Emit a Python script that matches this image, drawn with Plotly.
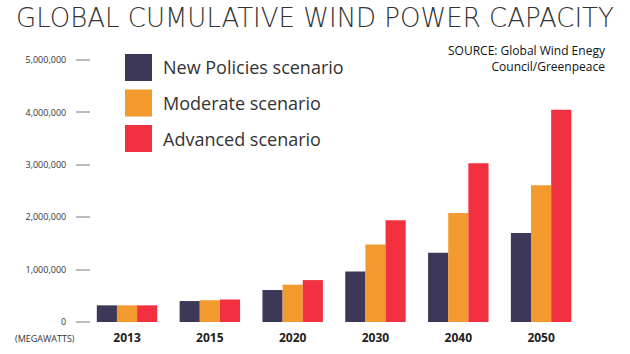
import plotly.graph_objects as go

years = ["2013", "2015", "2020", "2030", "2040", "2050"]
new_policies = [318000, 400000, 610000, 964000, 1320000, 1700000]
moderate = [318000, 415000, 712000, 1480000, 2080000, 2610000]
advanced = [318000, 430000, 800000, 1940000, 3030000, 4050000]
series_names = ["New Policies scenario", "Moderate scenario", "Advanced scenario"]
colors = ["#3d3858", "#f29a2e", "#f2303f"]
y_ticks = [0, 1000000, 2000000, 3000000, 4000000, 5000000]

fig = go.Figure()
for name, vals, col in zip(series_names, [new_policies, moderate, advanced], colors):
    fig.add_trace(go.Bar(x=years, y=vals, name=name, marker_color=col,
                         marker_line_width=0, showlegend=False))

fig.update_layout(
    width=630, height=354,
    margin=dict(l=91, r=45, t=60, b=32),
    paper_bgcolor="white", plot_bgcolor="white",
    barmode="group", bargap=0.27, bargroupgap=0,
    font=dict(family="Open Sans", color="#333"),
    xaxis=dict(type="category", range=[-0.435, 5.53], showgrid=False, showline=False,
               automargin=False,
               ticks="", tickfont=dict(family="Open Sans", size=12, color="#222", weight=700),
               ticklabelstandoff=7),
    yaxis=dict(range=[0, 5000000], tickvals=y_ticks, tickformat=",d", showgrid=False,
               automargin=False,
               zeroline=False, showline=False, ticks="outside", ticklen=14, tickwidth=1.5,
               tickcolor="#bbb", tickfont=dict(family="Open Sans", size=9, color="#333"),
               ticklabelstandoff=8),
)

fig.add_annotation(text="GLOBAL CUMULATIVE WIND POWER CAPACITY", xref="paper", yref="paper",
                   x=0.5, y=1, xanchor="center", yanchor="middle", showarrow=False,
                   font=dict(family="DejaVu Sans", size=26, color="#333", weight=200),
                   xshift=-23, yshift=(354 - 18) - 294)
fig.add_annotation(text="SOURCE: Global Wind Enegy<br>Council/Greenpeace", xref="paper", yref="paper",
                   x=1, y=1, xanchor="right", yanchor="top", align="right", showarrow=False,
                   font=dict(family="Open Sans", size=12, color="#111"),
                   xshift=23, yshift=20)
fig.add_annotation(text="(MEGAWATTS)", xref="paper", yref="paper", x=0, y=0,
                   xanchor="right", yanchor="middle", showarrow=False,
                   font=dict(family="Open Sans", size=9, color="#333"),
                   xshift=-14, yshift=-16)

# manual legend
for i, (name, col) in enumerate(zip(series_names, colors)):
    top = 54 + i * 35.5
    fig.add_shape(type="rect", xref="paper", yref="paper",
                  x0=(125 - 91) / 494, x1=(152 - 91) / 494,
                  y0=(322 - (top + 27)) / 262, y1=(322 - top) / 262,
                  fillcolor=col, line_width=0)
    fig.add_annotation(text=name, xref="paper", yref="paper",
                       x=(161 - 91) / 494, y=(322 - (top + 13.5)) / 262,
                       xanchor="left", yanchor="middle", showarrow=False,
                       font=dict(family="Open Sans", size=18, color="#333"))

fig.write_html("out.html")
